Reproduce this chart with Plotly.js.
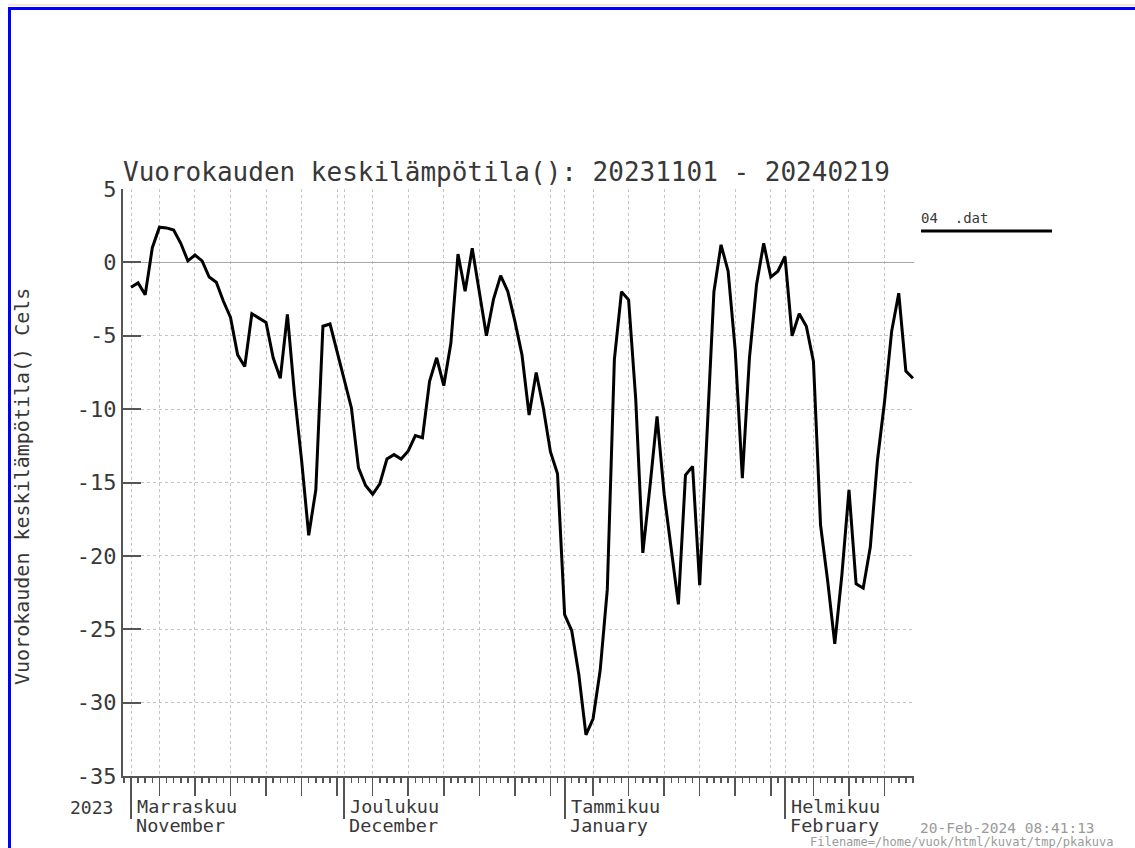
<!DOCTYPE html>
<html>
<head>
<meta charset="utf-8">
<script src="https://cdn.plot.ly/plotly-3.0.1.min.js"></script>
<style>
  html, body { margin: 0; padding: 0; background: #ffffff; overflow: hidden; }
  #chart { position: absolute; left: 0; top: 0; width: 1135px; height: 848px; }
  #peach { position: absolute; left: 8px; top: 4px; width: 1200px; height: 2px; background: #fbe6d4; }
  #frame { position: absolute; left: 8px; top: 7px; width: 1200px; height: 1000px;
           border-left: 3px solid #0000ff; border-top: 3px solid #0000ff; pointer-events: none; }
</style>
</head>
<body>
<div id="peach"></div>
<div id="chart"></div>
<div id="frame"></div>
<script>
// ---- data ----
const startDate = '2023-11-01';
const dayMs = 86400000;
const temps = [
  -1.7, -1.4, -2.2, 1.0, 2.4, 2.35, 2.2, 1.3, 0.1, 0.5,
  0.1, -1.0, -1.35, -2.65, -3.75, -6.3, -7.1, -3.5, -3.8, -4.1,
  -6.5, -7.9, -3.55, -9.0, -13.5, -18.6, -15.5, -4.35, -4.2, -6.05,
  -7.9, -9.9, -14.0, -15.2, -15.8, -15.1, -13.4, -13.1, -13.4, -12.85,
  -11.8, -11.95, -8.1, -6.5, -8.4, -5.5, 0.57, -1.97, 0.97, -1.97,
  -5.0, -2.5, -0.9, -1.97, -4.0, -6.3, -10.4, -7.5, -9.9, -12.9,
  -14.4, -24.0, -25.1, -28.1, -32.2, -31.1, -27.8, -22.3, -6.6, -2.0,
  -2.55, -9.3, -19.8, -15.3, -10.5, -15.8, -19.5, -23.3, -14.5, -13.9,
  -22.0, -12.0, -2.0, 1.2, -0.6, -6.0, -14.7, -6.5, -1.5, 1.3,
  -1.0, -0.6, 0.4, -5.0, -3.5, -4.35, -6.75, -17.9, -21.7, -26.0,
  -21.3, -15.5, -21.9, -22.2, -19.4, -13.5, -9.5, -4.7, -2.1, -7.4,
  -7.9
];
const monthStarts = ['2023-11-01', '2023-12-01', '2024-01-01', '2024-02-01'];
const monthNamesFi = ['Marraskuu', 'Joulukuu', 'Tammikuu', 'Helmikuu'];
const monthNamesEn = ['November', 'December', 'January', 'February'];
const yearLabel = '2023';
const gridDays = [5, 10, 15, 20, 25, 30];
const lastDate = '2024-02-19';
const yTickVals = [5, 0, -5, -10, -15, -20, -25, -30, -35];
const yTickText = ['5', '0', '-5', '-10', '-15', '-20', '-25', '-30', '-35'];
const titleText = 'Vuorokauden keskilämpötila(): 20231101 - 20240219';
const yTitleText = 'Vuorokauden keskilämpötila() Cels';
const legendText = '04\u00a0\u00a0.dat';
const stampText = '20-Feb-2024 08:41:13';
const fileText = 'Filename=/home/vuok/html/kuvat/tmp/pkakuva';

// ---- derived tick positions ----
const fiveDayTicks = [];
monthStarts.forEach(function (m) {
  const ym = m.slice(0, 8);
  gridDays.forEach(function (d) {
    const s = ym + String(d).padStart(2, '0');
    const dt = new Date(s + 'T00:00:00Z');
    if (dt.toISOString().slice(0, 10) === s && s <= lastDate) fiveDayTicks.push(s);
  });
});

const xRange = ['2023-10-30 21:00', '2024-02-19 03:30'];
const mono = 'DejaVu Sans Mono, monospace';
const txt = '#383838';
const axCol = '#555555';
const gridCol = '#c4c4c4';

const traces = [
  { type: 'scatter', mode: 'lines', x0: startDate, dx: dayMs, y: temps,
    line: { color: '#000000', width: 3 }, xaxis: 'x', yaxis: 'y',
    showlegend: false, hoverinfo: 'x+y' },
  { type: 'scatter', mode: 'lines', x: [startDate], y: [null], xaxis: 'x2', yaxis: 'y',
    showlegend: false, hoverinfo: 'skip' },
  { type: 'scatter', mode: 'lines', x: [startDate], y: [null], xaxis: 'x3', yaxis: 'y',
    showlegend: false, hoverinfo: 'skip' }
];

const pl = 123, pr = 914, pt = 189, pb = 776;
const pw = pr - pl, ph = pb - pt;
function px2x(p) { return (p - pl) / pw; }
function px2y(p) { return (pb - p) / ph; }

const annotations = [
  { text: yTitleText, textangle: -90, xref: 'paper', yref: 'paper',
    x: px2x(22), y: px2y(487), xanchor: 'center', yanchor: 'middle', showarrow: false,
    font: { family: mono, size: 20, color: txt } },
  { text: yearLabel, xref: 'paper', yref: 'paper', x: 0, y: 0, xanchor: 'right', yanchor: 'middle',
    xshift: -8, yshift: -31, showarrow: false, font: { family: mono, size: 18, color: txt } },
  { text: legendText, xref: 'paper', yref: 'paper', x: px2x(919), y: px2y(218), xanchor: 'left', yanchor: 'middle',
    showarrow: false, font: { family: mono, size: 14, color: txt } },
  { text: stampText, xref: 'paper', yref: 'paper', x: px2x(918), y: 0, xanchor: 'left', yanchor: 'middle',
    yshift: -52, showarrow: false, font: { family: mono, size: 14.5, color: '#9a9a9a' } },
  { text: fileText, xref: 'paper', yref: 'paper', x: px2x(809), y: 0, xanchor: 'left', yanchor: 'middle',
    yshift: -66, showarrow: false, borderpad: 0, font: { family: mono, size: 12, color: '#9a9a9a' } }
];
monthStarts.forEach(function (m, i) {
  annotations.push({ text: monthNamesFi[i], xref: 'x', yref: 'paper', x: m, y: 0,
    xanchor: 'left', yanchor: 'middle', xshift: 4, yshift: -30, showarrow: false,
    font: { family: mono, size: 18.5, color: txt } });
  annotations.push({ text: monthNamesEn[i], xref: 'x', yref: 'paper', x: m, y: 0,
    xanchor: 'left', yanchor: 'middle', xshift: 4, yshift: -49, showarrow: false,
    borderpad: 0, font: { family: mono, size: 18.5, color: txt } });
});

const layout = {
  width: 1135, height: 848,
  margin: { l: pl, r: 1135 - pr, t: pt, b: 848 - pb, pad: 0 },
  paper_bgcolor: 'rgba(0,0,0,0)', plot_bgcolor: 'rgba(0,0,0,0)',
  showlegend: false,
  title: { text: titleText, xref: 'paper', x: 0, xanchor: 'left',
           yref: 'container', y: 1 - 172 / 848, yanchor: 'middle',
           font: { family: mono, size: 26, color: txt } },
  xaxis: { type: 'date', range: xRange, anchor: 'y',
           showline: true, linecolor: axCol, linewidth: 2,
           ticks: 'outside', ticklen: 5, tickwidth: 1.5, tickcolor: axCol,
           tick0: startDate, dtick: dayMs, showticklabels: false,
           showgrid: false, zeroline: false },
  xaxis2: { type: 'date', range: xRange, overlaying: 'x', anchor: 'y', side: 'bottom',
            tickmode: 'array', tickvals: fiveDayTicks,
            ticks: 'outside', ticklen: 19, tickwidth: 1.5, tickcolor: axCol,
            showticklabels: false, showline: false, zeroline: false,
            showgrid: true, gridcolor: gridCol, gridwidth: 1, griddash: 'dot' },
  xaxis3: { type: 'date', range: xRange, overlaying: 'x', anchor: 'y', side: 'bottom',
            tickmode: 'array', tickvals: monthStarts,
            ticks: 'outside', ticklen: 42, tickwidth: 2, tickcolor: axCol,
            showticklabels: false, showline: false, zeroline: false,
            showgrid: true, gridcolor: gridCol, gridwidth: 1, griddash: 'dot' },
  yaxis: { range: [-35, 5], tickmode: 'array', tickvals: yTickVals, ticktext: yTickText,
           showline: true, linecolor: axCol, linewidth: 2,
           ticks: 'inside', ticklen: 18, tickwidth: 2, tickcolor: axCol,
           tickfont: { family: mono, size: 22, color: txt },
           showgrid: true, gridcolor: gridCol, gridwidth: 1, griddash: 'dot',
           zeroline: true, zerolinecolor: '#a8a8a8', zerolinewidth: 1.2 },
  shapes: [
    { type: 'line', xref: 'paper', yref: 'paper', x0: px2x(921), x1: px2x(1052),
      y0: px2y(231), y1: px2y(231), line: { color: '#000000', width: 3 } }
  ],
  annotations: annotations
};

Plotly.newPlot('chart', traces, layout, { displayModeBar: false, staticPlot: true });
</script>
</body>
</html>
